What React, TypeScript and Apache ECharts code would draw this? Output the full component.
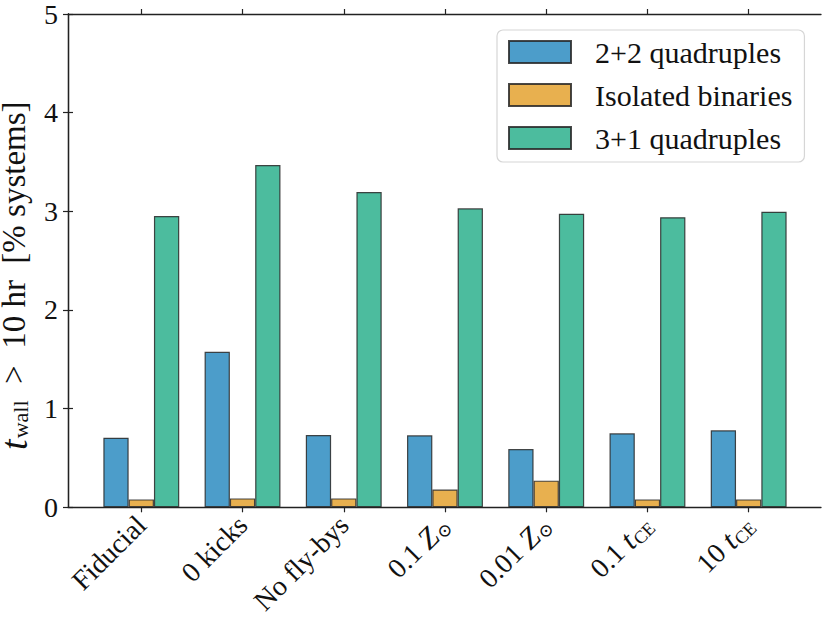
import React, { useEffect, useRef } from "react";
import * as echarts from "echarts";

const categories = ["Fiducial", "0 kicks", "No fly-bys", "0.1 Z", "0.01 Z", "0.1 t", "10 t"];
const categoryLabels = [
  "{n|Fiducial}",
  "{n|0 kicks}",
  "{n|No fly-bys}",
  "{n|0.1 }{i|Z}{s|⊙}",
  "{n|0.01 }{i|Z}{s|⊙}",
  "{n|0.1 }{i|t}{s|CE}",
  "{n|10 }{i|t}{s|CE}",
];
const quad22 = [0.705, 1.576, 0.733, 0.73, 0.59, 0.75, 0.78];
const isolated = [0.08, 0.09, 0.09, 0.18, 0.27, 0.08, 0.08];
const quad31 = [2.953, 3.47, 3.196, 3.03, 2.976, 2.94, 2.996];
const yTicks = [0, 1, 2, 3, 4, 5];

const FONT = "'Liberation Serif', 'DejaVu Serif', serif";
const AX = "#222222";
const EDGE = "rgba(40,40,40,0.85)";

export default function App() {
  const ref = useRef<HTMLDivElement>(null);
  useEffect(() => {
    document.body.style.margin = "0";
    if (!ref.current) return;
    const chart = echarts.init(ref.current, null, { renderer: "svg" });
    const gTop = 14;
    const gH = 493.3;
    const frameGrid = { left: 68, top: gTop, width: 753, height: gH };
    const spacing = 101.23;
    const barGrid = { left: 141.3 - spacing / 2, top: gTop, width: spacing * 7, height: gH };
    const rich = {
      n: { fontFamily: FONT, fontSize: 28, color: "#111", lineHeight: 32 },
      i: { fontFamily: FONT, fontSize: 30, fontStyle: "italic", color: "#111", lineHeight: 32 },
      s: { fontFamily: FONT, fontSize: 18, color: "#111", lineHeight: 32, verticalAlign: "bottom", padding: [7, 0, 0, 1] },
    };
    const mkSeries = (name: string, data: number[], color: string) => ({
      name,
      type: "bar",
      xAxisIndex: 2,
      yAxisIndex: 2,
      data,
      barWidth: 25.3,
      barGap: "0%",
      itemStyle: { color, borderColor: EDGE, borderWidth: 1.2 },
      emphasis: { disabled: true },
    });
    chart.setOption({
      animation: false,
      backgroundColor: "#ffffff",
      grid: [
        { ...frameGrid, containLabel: false, outerBoundsMode: "none" },
        { ...barGrid, containLabel: false, outerBoundsMode: "none" },
      ],
      xAxis: [
        {
          type: "value", gridIndex: 0, position: "bottom", min: 0, max: 1,
          axisLine: { show: true, onZero: false, lineStyle: { color: AX, width: 1.3 } },
          axisTick: { show: false }, axisLabel: { show: false }, splitLine: { show: false },
        },
        {
          type: "value", gridIndex: 0, position: "top", min: 0, max: 1,
          axisLine: { show: true, onZero: false, lineStyle: { color: AX, width: 1.3 } },
          axisTick: { show: false }, axisLabel: { show: false }, splitLine: { show: false },
        },
        {
          type: "category", gridIndex: 1, position: "bottom", data: categories,
          axisLine: { show: false },
          axisTick: { show: true, alignWithLabel: true, length: 5, lineStyle: { color: AX, width: 1.2 } },
          axisLabel: {
            rotate: 45, margin: 13, interval: 0,
            formatter: (_v: string, idx: number) => categoryLabels[idx],
            rich,
          },
          splitLine: { show: false },
        },
        {
          type: "category", gridIndex: 1, position: "top", data: categories,
          axisLine: { show: false },
          axisTick: { show: true, alignWithLabel: true, length: 5, lineStyle: { color: AX, width: 1.2 } },
          axisLabel: { show: false }, splitLine: { show: false },
        },
      ],
      yAxis: [
        {
          type: "value", gridIndex: 0, position: "left", min: 0, max: 5, interval: 1,
          axisLine: { show: true, lineStyle: { color: AX, width: 1.3 } },
          axisTick: { show: true, length: 5, lineStyle: { color: AX, width: 1.2 } },
          axisLabel: {
            margin: 10, fontFamily: FONT, fontSize: 28, color: "#111",
            formatter: (v: number) => (yTicks.includes(v) ? String(v) : ""),
          },
          splitLine: { show: false },
          name: "{i|t}{s|wall}{n|  >  10 hr  [% systems]}{p| }",
          nameLocation: "middle",
          nameRotate: 90,
          nameGap: 34,
          nameTextStyle: {
            rich: {
              i: { fontFamily: FONT, fontSize: 38, fontStyle: "italic", color: "#111", lineHeight: 34 },
              s: { fontFamily: FONT, fontSize: 22, color: "#111", lineHeight: 34, verticalAlign: "bottom", padding: [8, 0, 0, 1] },
              n: { fontFamily: FONT, fontSize: 33, color: "#111", lineHeight: 34 },
              p: { fontSize: 10, lineHeight: 34, width: 30 },
            },
          },
        },
        {
          type: "value", gridIndex: 0, position: "right", min: 0, max: 5, interval: 1,
          axisLine: { show: true, lineStyle: { color: AX, width: 1.3 } },
          axisTick: { show: true, length: 5, lineStyle: { color: AX, width: 1.2 } },
          axisLabel: { show: false }, splitLine: { show: false },
        },
        {
          type: "value", gridIndex: 1, min: 0, max: 5, interval: 1, show: false,
          splitLine: { show: false },
        },
      ],
      legend: {
        orient: "vertical",
        left: 497,
        top: 30,
        itemWidth: 62,
        itemHeight: 22,
        itemGap: 13,
        padding: [7, 12, 9, 11],
        borderColor: "#d6d6d6",
        borderWidth: 1.2,
        borderRadius: 6,
        backgroundColor: "rgba(255,255,255,0.85)",
        icon: "rect",
        textStyle: { fontFamily: FONT, fontSize: 30, lineHeight: 22, color: "#111", padding: [0, 0, 0, 19] },
        data: ["2+2 quadruples", "Isolated binaries", "3+1 quadruples"],
      },
      series: [
        mkSeries("2+2 quadruples", quad22, "#4C9DCA"),
        mkSeries("Isolated binaries", isolated, "#E8B04F"),
        mkSeries("3+1 quadruples", quad31, "#4CBC9E"),
      ],
    });
    return () => chart.dispose();
  }, []);
  return <div ref={ref} style={{ width: 830, height: 623 }} />;
}
